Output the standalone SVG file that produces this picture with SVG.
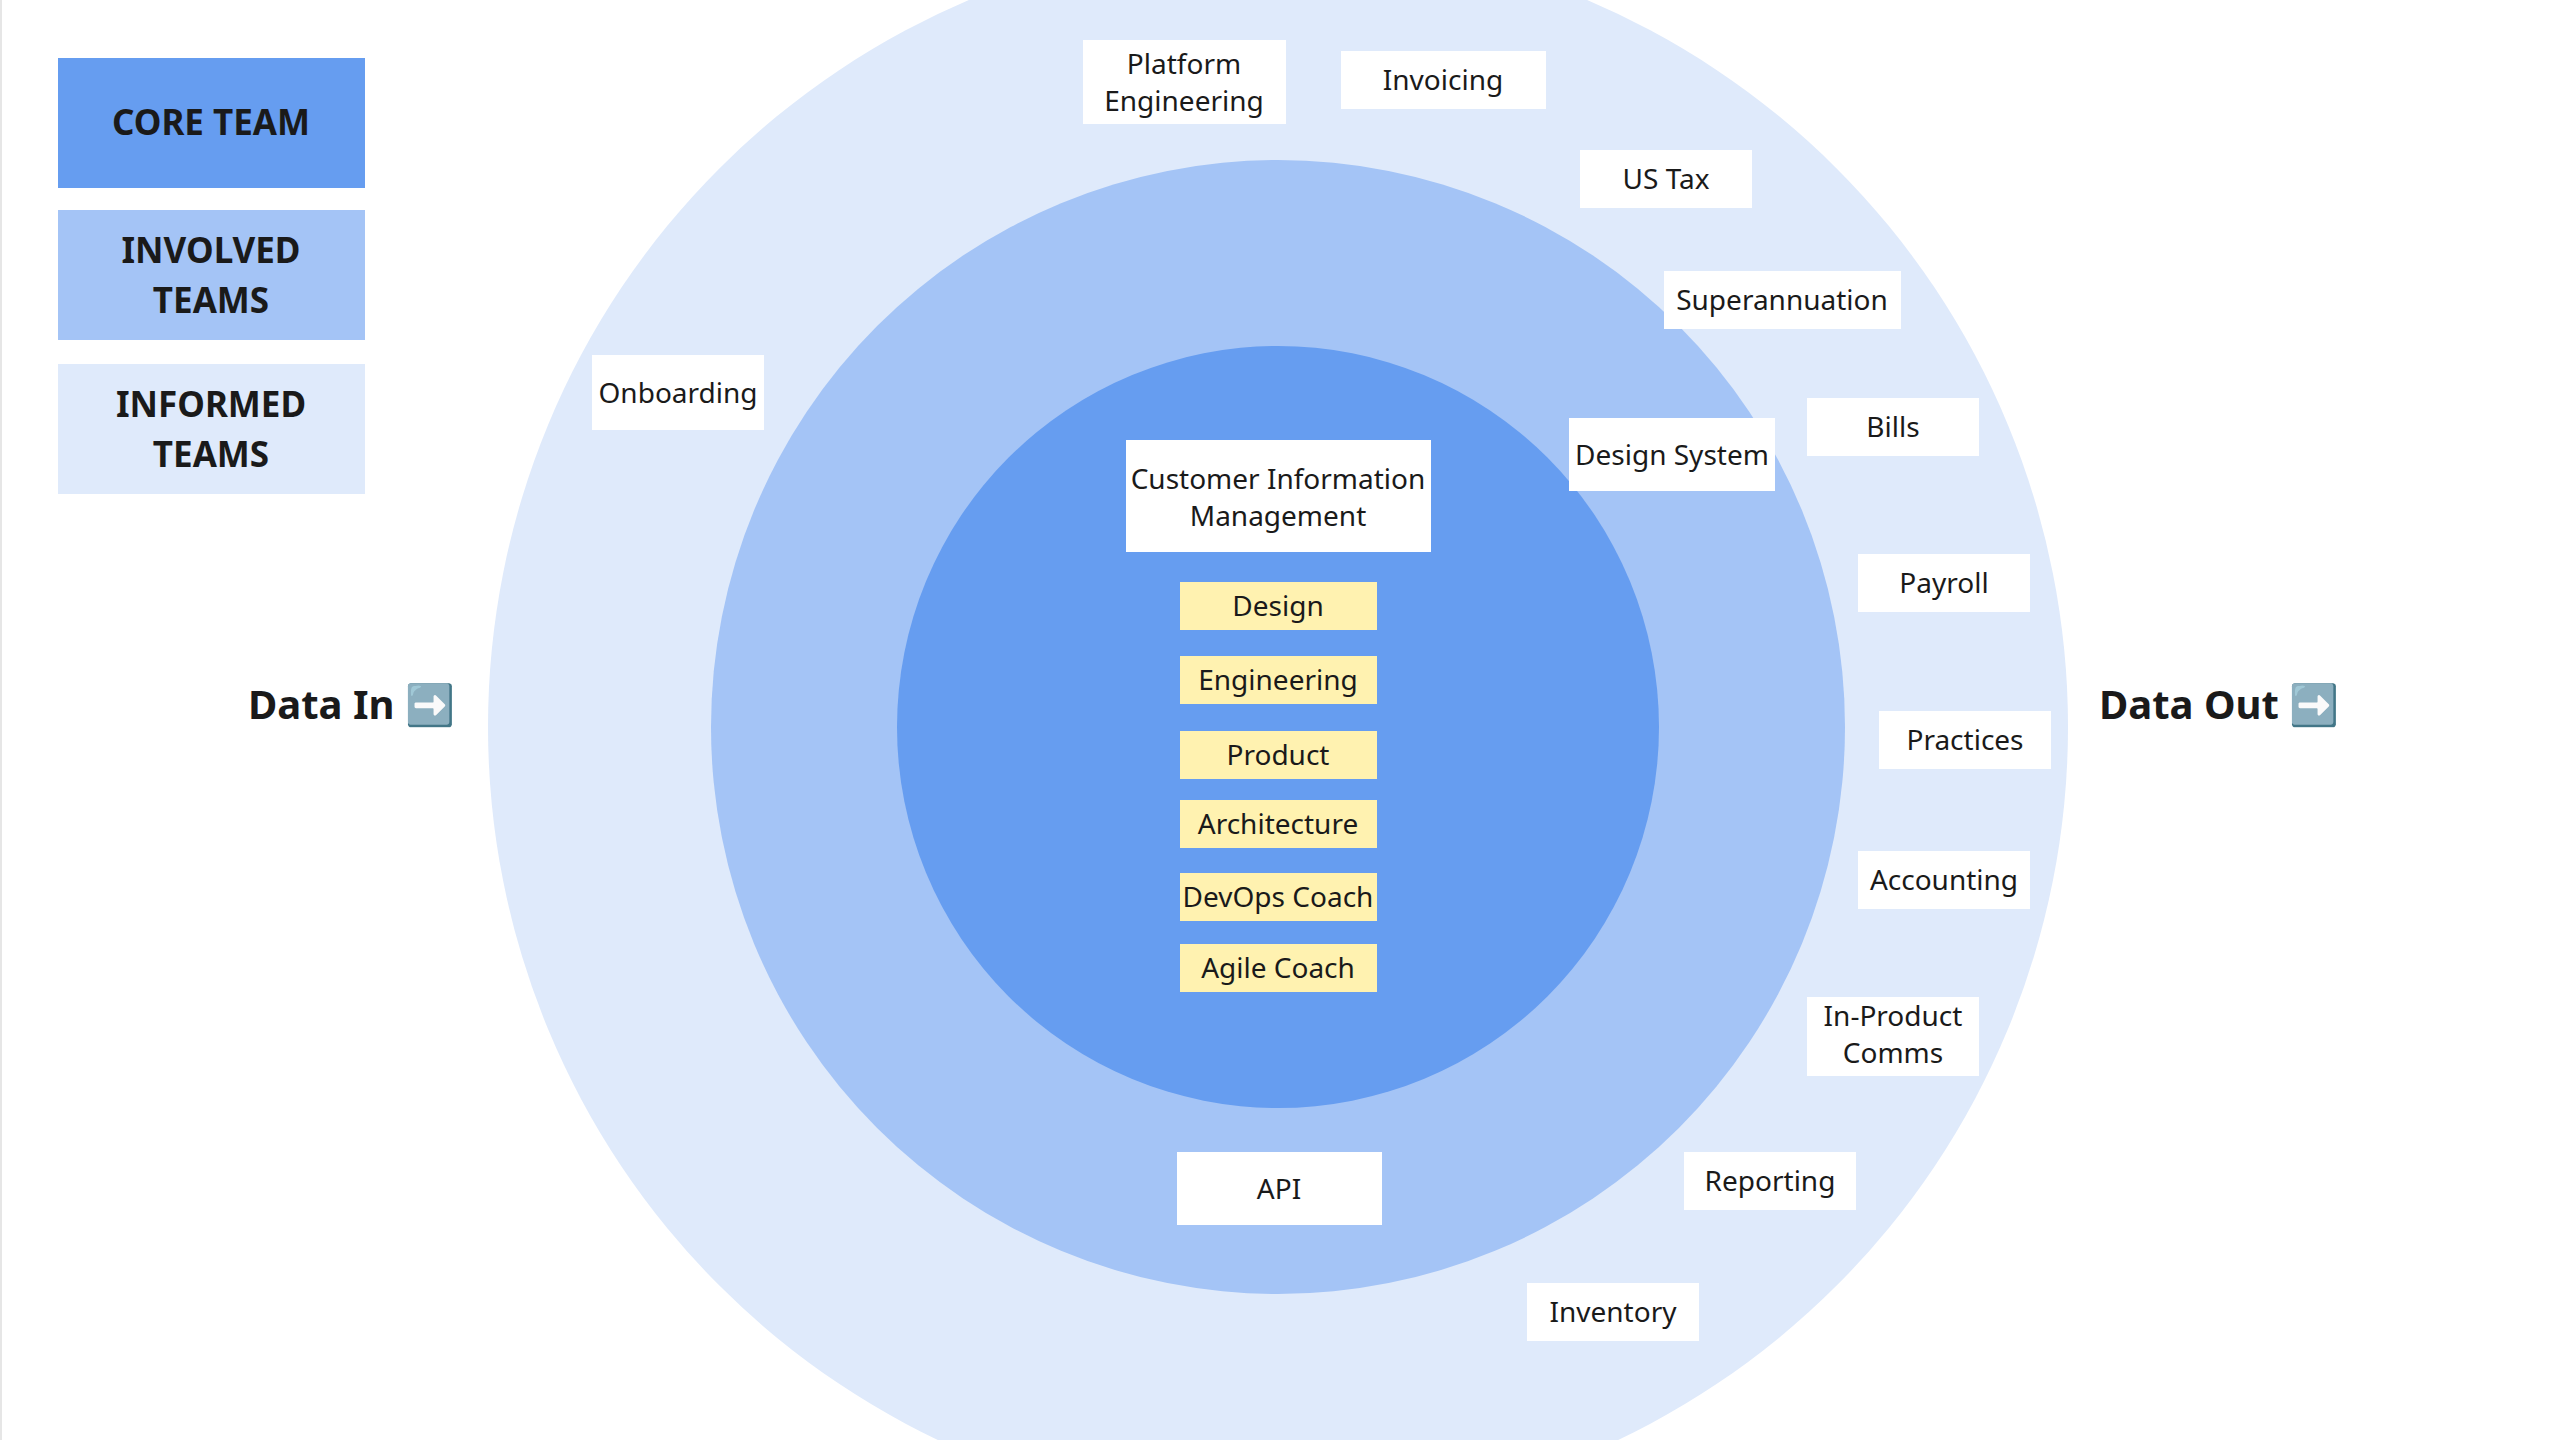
<svg xmlns="http://www.w3.org/2000/svg" width="2560" height="1440" viewBox="0 0 2560 1440">
<style>
text{font-family:"Noto Sans","Open Sans",sans-serif;fill:#1a1a1a;text-anchor:middle}
.t{font-size:28px}
.l{font-size:35px;font-weight:bold}
.d{font-size:40px;font-weight:bold;text-anchor:start}
.w{fill:#fff}
.y{fill:#fff2b0}
</style>
<rect width="2560" height="1440" fill="#fff"/>
<line x1="1" y1="0" x2="1" y2="1440" stroke="#e6e6e6" stroke-width="2"/>
<g id="rings">
<circle cx="1278" cy="727" r="790" fill="#dfeafb"/>
<circle cx="1278" cy="727" r="567" fill="#a4c4f6"/>
<circle cx="1278" cy="727" r="381" fill="#669df0"/>
</g>
<g id="legend-core"><rect x="58" y="58" width="307" height="130" fill="#669df0"/><text class="l" x="211" y="135">CORE TEAM</text></g>
<g id="legend-involved"><rect x="58" y="210" width="307" height="130" fill="#a4c4f6"/><text class="l" x="211" y="263">INVOLVED</text><text class="l" x="211" y="313">TEAMS</text></g>
<g id="legend-informed"><rect x="58" y="364" width="307" height="130" fill="#dfeafb"/><text class="l" x="211" y="417">INFORMED</text><text class="l" x="211" y="467">TEAMS</text></g>
<g id="data-in"><text class="d" x="248" y="719">Data In ➡️</text></g>
<g id="data-out"><text class="d" x="2099" y="719">Data Out ➡️</text></g>
<g id="platform"><rect class="w" x="1083" y="40" width="203" height="84"/><text class="t" x="1184" y="74">Platform</text><text class="t" x="1184" y="111">Engineering</text></g>
<g id="invoicing"><rect class="w" x="1341" y="51" width="205" height="58"/><text class="t" x="1443" y="90">Invoicing</text></g>
<g id="ustax"><rect class="w" x="1580" y="150" width="172" height="58"/><text class="t" x="1666" y="189">US Tax</text></g>
<g id="super"><rect class="w" x="1664" y="271" width="237" height="58"/><text class="t" x="1782" y="310">Superannuation</text></g>
<g id="bills"><rect class="w" x="1807" y="398" width="172" height="58"/><text class="t" x="1893" y="437">Bills</text></g>
<g id="designsystem"><rect class="w" x="1569" y="418" width="206" height="73"/><text class="t" x="1672" y="465">Design System</text></g>
<g id="onboarding"><rect class="w" x="592" y="355" width="172" height="75"/><text class="t" x="678" y="403">Onboarding</text></g>
<g id="cim"><rect class="w" x="1126" y="440" width="305" height="112"/><text class="t" x="1278" y="489">Customer Information</text><text class="t" x="1278" y="526">Management</text></g>
<g id="design"><rect class="y" x="1180" y="582" width="197" height="48"/><text class="t" x="1278" y="616">Design</text></g>
<g id="engineering"><rect class="y" x="1180" y="656" width="197" height="48"/><text class="t" x="1278" y="690">Engineering</text></g>
<g id="product"><rect class="y" x="1180" y="731" width="197" height="48"/><text class="t" x="1278" y="765">Product</text></g>
<g id="architecture"><rect class="y" x="1180" y="800" width="197" height="48"/><text class="t" x="1278" y="834">Architecture</text></g>
<g id="devops"><rect class="y" x="1180" y="873" width="197" height="48"/><text class="t" x="1278" y="907">DevOps Coach</text></g>
<g id="agile"><rect class="y" x="1180" y="944" width="197" height="48"/><text class="t" x="1278" y="978">Agile Coach</text></g>
<g id="payroll"><rect class="w" x="1858" y="554" width="172" height="58"/><text class="t" x="1944" y="593">Payroll</text></g>
<g id="practices"><rect class="w" x="1879" y="711" width="172" height="58"/><text class="t" x="1965" y="750">Practices</text></g>
<g id="accounting"><rect class="w" x="1858" y="851" width="172" height="58"/><text class="t" x="1944" y="890">Accounting</text></g>
<g id="inproduct"><rect class="w" x="1807" y="997" width="172" height="79"/><text class="t" x="1893" y="1026">In-Product</text><text class="t" x="1893" y="1063">Comms</text></g>
<g id="reporting"><rect class="w" x="1684" y="1152" width="172" height="58"/><text class="t" x="1770" y="1191">Reporting</text></g>
<g id="inventory"><rect class="w" x="1527" y="1283" width="172" height="58"/><text class="t" x="1613" y="1322">Inventory</text></g>
<g id="api"><rect class="w" x="1177" y="1152" width="205" height="73"/><text class="t" x="1279" y="1199">API</text></g>
<g id="connectors"></g>
</svg>
